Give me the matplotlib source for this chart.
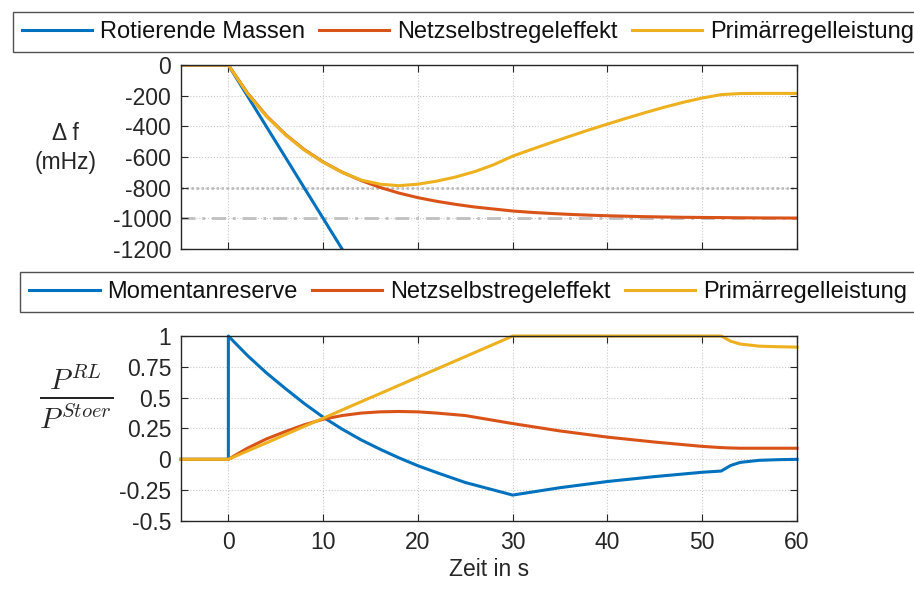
import matplotlib.pyplot as plt
import numpy as np

plt.rcParams["font.family"] = ["Liberation Sans", "DejaVu Sans"]
plt.rcParams["mathtext.fontset"] = "cm"
plt.rcParams["axes.unicode_minus"] = False

# top panel: frequency deviation in mHz
t_rot = [-5, 0, 12]
df_rot = [0, 0, -1200]

t_top = [-5, 0, 2, 4, 6, 8, 10, 12, 14, 16, 18, 20, 22, 24, 26, 28, 30,
         32, 34, 36, 38, 40, 42, 44, 46, 48, 50, 52, 54, 56, 60]
df_netz = [0, 0, -181, -330, -451, -551, -632, -699, -753, -798, -835, -865,
           -889, -909, -926, -939, -952, -961, -968, -974, -979, -983, -986,
           -989, -991, -993, -994, -995, -996, -997, -998]
df_prim = [0, 0, -184, -333, -454, -554, -634, -700, -750, -777, -787, -777,
           -757, -730, -695, -650, -594, -550, -507, -465, -424, -385, -347,
           -310, -275, -243, -215, -193, -186, -185, -185]

# bottom panel: power share P_RL / P_Stoer
t_bot = [-5, 0, 0, 2, 4, 6, 8, 10, 12, 14, 16, 18, 20, 22, 25, 30, 35, 40,
         45, 50, 52, 53, 54, 56, 58, 60]
p_moment = [0, 0, 1, 0.843, 0.702, 0.575, 0.453, 0.342, 0.245, 0.158, 0.082,
            0.012, -0.052, -0.108, -0.188, -0.29, -0.23, -0.18, -0.14, -0.105,
            -0.095, -0.05, -0.025, -0.008, -0.003, 0.0]
p_netz = [0, 0, 0, 0.09, 0.165, 0.225, 0.28, 0.325, 0.355, 0.375, 0.385,
          0.388, 0.385, 0.375, 0.355, 0.29, 0.23, 0.18, 0.14, 0.105, 0.095,
          0.092, 0.09, 0.09, 0.09, 0.09]
p_prim = [0, 0, 0, 0.067, 0.133, 0.2, 0.267, 0.333, 0.4, 0.467, 0.533, 0.6,
          0.667, 0.733, 0.833, 1.0, 1.0, 1.0, 1.0, 1.0, 1.0, 0.958, 0.935,
          0.918, 0.913, 0.91]

xticks = [0, 10, 20, 30, 40, 50, 60]
yticks_top = [0, -200, -400, -600, -800, -1000, -1200]
yticks_bot = [1, 0.75, 0.5, 0.25, 0, -0.25, -0.5]
yticklabels_bot = ["1", "0.75", "0.5", "0.25", "0", "-0.25", "-0.5"]

c_blue, c_red, c_yel = "#0072BD", "#D95319", "#EDB120"
grey = "#262626"
fs = 16.5
lw = 2.2

fig = plt.figure(figsize=(9.14, 5.89), dpi=100)
ax1 = fig.add_axes([0.198, 0.5772, 0.674, 0.3124])
ax2 = fig.add_axes([0.198, 0.1155, 0.674, 0.314])

ax1.axhline(-800, color="#b5b5b5", ls=(0, (1.0, 1.0)), lw=1.8, zorder=1)
ax1.axhline(-1000, color="#bdbdbd", ls=(0, (5, 2.5, 1, 2.5)), lw=2.0, zorder=1)
l1, = ax1.plot(t_rot, df_rot, color=c_blue, lw=lw)
l2, = ax1.plot(t_top, df_netz, color=c_red, lw=lw)
l3, = ax1.plot(t_top, df_prim, color=c_yel, lw=lw)

m1, = ax2.plot(t_bot, p_moment, color=c_blue, lw=lw, clip_on=False)
m2, = ax2.plot(t_bot, p_netz, color=c_red, lw=lw, clip_on=False)
m3, = ax2.plot(t_bot, p_prim, color=c_yel, lw=lw, clip_on=False)

for ax in (ax1, ax2):
    ax.set_xlim(-5, 60)
    ax.set_xticks(xticks)
    ax.grid(True, ls=":", color="#c8c8c8", lw=0.8)
    ax.tick_params(direction="in", top=True, right=True, length=5,
                   labelsize=fs, colors=grey, pad=7)
    for s in ax.spines.values():
        s.set_color(grey)
        s.set_linewidth(1.0)
        s.set_zorder(3)

ax1.set_ylim(-1200, 0)
ax1.set_yticks(yticks_top)
ax1.set_xticklabels([])
ax1.set_ylabel("Δ f\n(mHz)", rotation=0, fontsize=fs, color=grey,
               ha="center", va="center", linespacing=1.3)
ax1.yaxis.set_label_coords(-0.187, 0.55)

ax2.set_ylim(-0.5, 1)
ax2.set_yticks(yticks_bot)
ax2.set_yticklabels(yticklabels_bot)
ax2.set_xlabel("Zeit in s", fontsize=fs, color=grey, labelpad=3)
ax2.set_ylabel(r"$\frac{P^{RL}}{P^{Stoer}}$", rotation=0, fontsize=30,
               color=grey, ha="center", va="center")
ax2.yaxis.set_label_coords(-0.17, 0.67)

leg_kw = dict(ncol=3, fontsize=17, frameon=True, fancybox=False,
              edgecolor=grey, handlelength=2.97, handletextpad=0.34,
              columnspacing=0.59, borderpad=0.4, borderaxespad=0)
lg1 = fig.legend([l1, l2, l3],
                 ["Rotierende Massen", "Netzselbstregeleffekt",
                  "Primärregelleistung"],
                 loc="center left", bbox_to_anchor=(0.0139, 0.9457), **leg_kw)
lg2 = fig.legend([m1, m2, m3],
                 ["Momentanreserve", "Netzselbstregeleffekt",
                  "Primärregelleistung"],
                 loc="center left", bbox_to_anchor=(0.0219, 0.5042), **leg_kw)
for lg in (lg1, lg2):
    lg.get_frame().set_linewidth(1.0)
    for txt in lg.get_texts():
        txt.set_color("#111111")

fig.savefig("out.png", dpi=100, facecolor="white")
